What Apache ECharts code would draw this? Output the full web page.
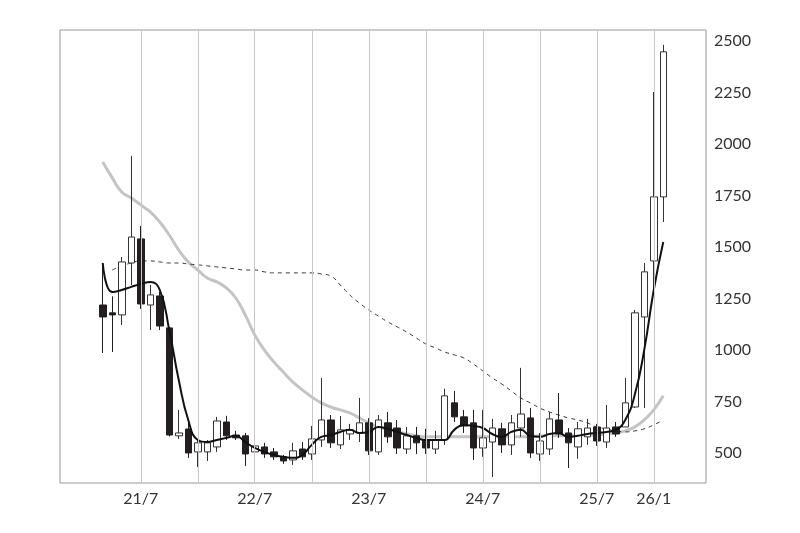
<!DOCTYPE html>
<html>
<head>
<meta charset="utf-8">
<script src="https://cdn.jsdelivr.net/npm/echarts@6/dist/echarts.min.js"></script>
<style>html,body{margin:0;padding:0;background:#fff}#chart{width:800px;height:533px}</style>
</head>
<body>
<div id="chart"></div>
<script>
// monthly candles 2021/3 .. 2026/2
var months = [];
for (var y = 21; y <= 26; y++) {
	for (var m = 1; m <= 12; m++) {
		if ((y == 21 && m < 3) || (y == 26 && m > 2)) continue;
		months.push(y + "/" + m);
	}
}
var open  = [1218,1180,1170,1422,1539,1218,1262,1107,583,616,505,505,529,650,587,583,505,529,505,481,466,519,495,563,660,539,592,597,646,505,646,621,519,583,563,519,563,743,675,646,524,553,617,539,621,670,495,519,660,597,529,578,626,553,626,626,723,1160,1432,1743];
var close = [1160,1170,1427,1548,1223,1267,1116,587,597,500,549,549,655,583,573,495,534,495,481,461,510,481,568,660,549,612,612,646,510,660,578,524,583,549,524,563,777,675,631,524,573,621,539,646,689,500,558,665,592,549,617,621,558,621,592,743,1180,1379,1743,2447];
var low   = [985,990,1121,1315,1199,1097,1097,580,568,476,432,461,505,563,563,437,476,476,466,447,442,466,466,529,524,519,563,553,490,490,549,495,495,495,495,495,539,650,597,466,481,383,500,490,578,476,461,490,573,427,471,539,534,524,578,626,718,718,1277,1621];
var high  = [1422,1260,1451,1942,1602,1315,1281,1110,709,650,563,563,675,680,607,597,563,549,524,490,549,553,631,864,684,679,641,767,669,684,699,660,626,626,617,607,811,801,709,709,709,665,646,684,913,718,597,699,791,621,650,665,641,733,650,864,1194,1422,2252,2481];
var maShort = [1422,1281,1291,1306,1320,1330,1291,1097,854,660,563,553,563,573,583,553,524,505,490,481,476,490,539,578,587,602,612,597,602,626,617,602,587,573,563,563,563,612,636,631,621,592,578,602,612,583,578,592,597,578,583,592,597,602,612,660,782,1000,1291,1524];
var maMid = [1912,1835,1767,1738,1704,1670,1621,1558,1485,1427,1388,1349,1330,1301,1252,1170,1073,1000,942,893,845,806,772,743,723,709,694,670,646,626,612,602,592,583,578,578,578,578,578,578,578,578,578,578,578,578,583,583,583,583,587,587,587,592,597,607,626,660,709,777];
var maLong = [null,1388,1408,1422,1432,1432,1427,1422,1422,1417,1413,1408,1403,1398,1393,1388,1388,1379,1374,1374,1374,1374,1374,1369,1359,1315,1267,1228,1194,1165,1136,1112,1087,1058,1029,1010,990,976,961,932,898,864,835,801,767,743,718,699,684,670,660,646,626,617,607,602,607,617,636,660];
var gridMonths = ["21/7","22/1","22/7","23/1","23/7","24/1","24/7","25/1","25/7","26/1"];
var shownLabels = ["21/7","22/7","23/7","24/7","25/7","26/1"];
var yTicks = [500,750,1000,1250,1500,1750,2000,2250,2500];

// pad 4 empty slots on each side
var cats = ["p1","p2","p3","p4"].concat(months, ["q1","q2","q3","q4"]);
function padArr(a) { return [null,null,null,null].concat(a, [null,null,null,null]); }

var ohlc = months.map(function(m, i){ return [open[i], close[i], low[i], high[i]]; });
var candles = ["-","-","-","-"].concat(ohlc, ["-","-","-","-"]);

var myChart = echarts.init(document.getElementById("chart"));
myChart.setOption({
	animation: false,
	grid: { left: 60, right: 94, top: 30, bottom: 50, show: true, borderColor: "#999", borderWidth: 1 },
	xAxis: {
		type: "category",
		data: cats,
		boundaryGap: true,
		axisLine: { show: false },
		axisTick: { show: false },
		splitLine: { show: false },
		axisLabel: {
			interval: 0,
			color: "#333",
			fontFamily: "Lato",
			fontSize: 16,
			margin: 8,
			formatter: function(v){ return shownLabels.indexOf(v) >= 0 ? v : ""; }
		}
	},
	yAxis: {
		type: "value",
		position: "right",
		min: 354,
		max: 2553,
		splitLine: { show: false },
		axisLine: { show: false },
		axisTick: { show: false, customValues: yTicks },
		axisLabel: {
			color: "#333", fontFamily: "Lato", fontSize: 16, margin: 8, customValues: yTicks,
			formatter: function(v){ return String(v); }
		}
	},
	series: [
		{
			type: "candlestick",
			data: candles,
			barWidth: 7,
			itemStyle: { color: "#fff", color0: "#231f20", borderColor: "#333", borderColor0: "#231f20", borderWidth: 1 },
			markLine: {
				silent: true,
				symbol: "none",
				label: { show: false },
				lineStyle: { color: "#c8c8c8", type: "solid", width: 1 },
				data: gridMonths.map(function(g){ return { xAxis: g }; })
			},
			z: 3
		},
		{
			type: "line", data: padArr(maMid), smooth: true, symbol: "none",
			lineStyle: { color: "#c4c4c4", width: 3 }, z: 2
		},
		{
			type: "line", data: padArr(maLong), smooth: true, symbol: "none",
			lineStyle: { color: "#333", width: 1, type: [4, 4] }, z: 2
		},
		{
			type: "line", data: padArr(maShort), smooth: true, symbol: "none",
			lineStyle: { color: "#111", width: 2 }, z: 4
		}
	]
});
</script>
</body>
</html>
